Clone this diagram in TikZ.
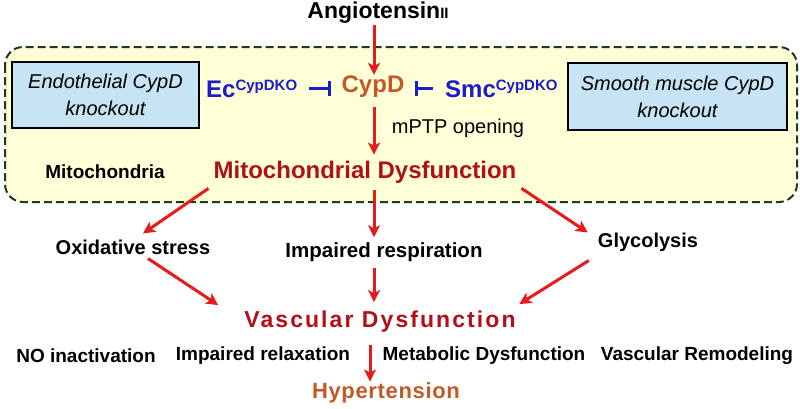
\documentclass[tikz,border=0pt]{standalone}
\usepackage{fontspec}
\setmainfont{Liberation Sans}
\usetikzlibrary{arrows.meta,calc}
\definecolor{arrred}{HTML}{E41C1C}
\definecolor{dred}{HTML}{B01018}
\definecolor{cyp}{HTML}{C05A28}
\definecolor{koblue}{HTML}{1C1CC8}
\definecolor{boxyellow}{HTML}{FFFFD8}
\definecolor{boxblue}{HTML}{C6E4F4}
\definecolor{dgreen}{HTML}{1E3A1E}
\newcommand{\myfs}[1]{\fontsize{#1}{#1}\selectfont}
\begin{document}
\begin{tikzpicture}[x=1pt,y=-1pt,
 arr/.style={draw=arrred,line width=3pt,-{Stealth[length=12pt,width=12pt,inset=3pt]}},
 inh/.style={draw=koblue,line width=3.5pt,-{Bar[width=15pt]}},
 lbl/.style={inner sep=0pt,font=\bfseries\myfs{20}},
 kobox/.style={draw=black,line width=1.3pt,fill=boxblue,align=center,font=\itshape\fontsize{20}{27}\selectfont,inner sep=0pt},
]
\useasboundingbox (0,0) rectangle (800,408);
\fill[white] (0,0) rectangle (800,408);
% mitochondria region
\draw[dgreen,fill=boxyellow,line width=2pt,dash pattern=on 8pt off 4pt,rounded corners=18pt] (5,47) rectangle (797,202);
\node[kobox,minimum width=187pt,minimum height=66pt] (endo) at (105.5,95) {Endothelial CypD\\knockout};
\node[kobox,minimum width=219pt,minimum height=67pt] (smooth) at (677.5,96.5) {Smooth muscle CypD\\knockout};

\node[lbl] (ang) at (378,13) {\myfs{23}Angiotensin\myfs{15}II};
\node[lbl,text=cyp,font=\bfseries\myfs{24}] (cypd) at (373,87) {CypD};
\node[lbl,text=koblue,anchor=west] (ec) at (206,88.5) {\myfs{24}Ec\raisebox{7pt}{\myfs{15}CypDKO}};
\node[lbl,text=koblue,anchor=west] (smc) at (445,88.5) {\myfs{24}Smc\raisebox{7pt}{\myfs{15}CypDKO}};
\node[inner sep=0pt,font=\myfs{20}] (mptp) at (458,128) {mPTP opening};
\node[lbl,font=\bfseries\myfs{19}] (mito) at (105,172) {Mitochondria};
\node[lbl,text=dred,font=\bfseries\myfs{24}] (md) at (365,172) {Mitochondrial Dysfunction};

\node[lbl] (ox) at (133,247) {Oxidative stress};
\node[lbl,font=\bfseries\myfs{20.5}] (resp) at (384,252) {Impaired respiration};
\node[lbl] (gly) at (648,242) {Glycolysis};

\node[lbl,text=dred,font=\bfseries\myfs{23}\addfontfeatures{LetterSpace=9}] (vd) at (380,322) {Vascular Dysfunction};

\node[lbl,font=\bfseries\myfs{19}] (noi) at (86,356) {NO inactivation};
\node[lbl,font=\bfseries\myfs{19}] (irel) at (263,356) {Impaired relaxation};
\node[lbl,font=\bfseries\myfs{19}] (meta) at (484,356) {Metabolic Dysfunction};
\node[lbl,font=\bfseries\myfs{19}] (vrem) at (697,356) {Vascular Remodeling};

\node[lbl,text=cyp,font=\bfseries\myfs{22}\addfontfeatures{LetterSpace=3}] (hyp) at (386,393) {Hypertension};

% connectors
\draw[arr] ($(cypd.north |- ang.south)+(1,1)$) -- ($(cypd.north)+(1,-1)$);
\draw[arr] ($(cypd.south)+(1,9)$) -- ($(md.north -| cypd.south)+(1,-6)$);
\draw[inh] ($(ec.east)+(12,0)$) -- ($(ec.east -| cypd.west)+(-10,0)$);
\draw[inh] ($(smc.west)+(-12,0)$) -- ($(smc.west -| cypd.east)+(10,0)$);

\draw[arr] ($(md.south west)+(-5,5)$) -- ($(ox.north)+(10,-6)$);
\draw[arr] ($(md.south)+(9,7)$) -- ($(resp.north)+(-10,-5)$);
\draw[arr] ($(md.south east)+(5,5)$) -- ($(gly.north west)+(-10,0)$);

\draw[arr] ($(ox.south)+(15,4)$) -- ($(vd.north west)+(-26,-6)$);
\draw[arr] ($(resp.south)+(-10,6)$) -- ($(vd.north)+(-6,-9)$);
\draw[arr] ($(gly.south west)+(-9,9)$) -- ($(vd.north east)+(3.5,-7)$);

\draw[arr] ($(vd.south)+(-10,12)$) -- ($(hyp.north)+(-16,-1)$);
\end{tikzpicture}
\end{document}
